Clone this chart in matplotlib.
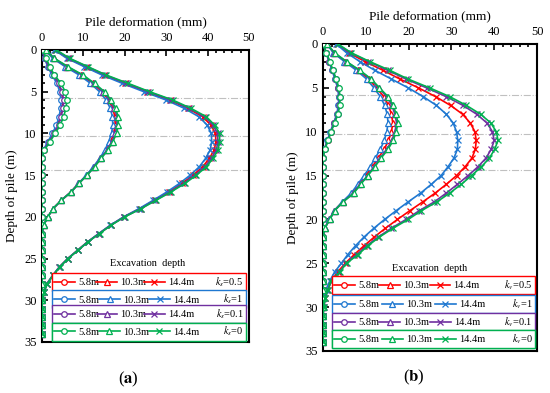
import matplotlib
matplotlib.use("Agg")
import matplotlib.pyplot as plt
from matplotlib.lines import Line2D

plt.rcParams['font.family'] = ['Liberation Serif', 'DejaVu Serif']
plt.rcParams['mathtext.fontset'] = 'stix'

depth = list(range(35))  # depth of pile (m), one point per metre
exc_depths = [5.8, 10.3, 14.4]  # excavation depths (m)
exc_labels = ['5.8m', '10.3m', '14.4m']
colors = ['#FF0000', '#1F78D1', '#7030A0', '#00B050']  # red, blue, purple, green
k_vals = ['0.5', '1', '0.1', '0']


def pad(v):
    return v + [0.0] * (35 - len(v))


# ---- panel (a): pile deformation (mm), order = red, blue, purple, green
a_58 = [
    pad([0.0, 0.7, 1.6, 2.7, 3.9, 4.7, 5.0, 4.9, 4.4, 3.8, 2.8, 1.6, 0.4]),
    pad([0.0, 0.6, 1.4, 2.4, 3.6, 4.3, 4.6, 4.5, 4.1, 3.5, 2.5, 1.4, 0.3]),
    pad([0.0, 0.7, 1.6, 2.8, 4.0, 4.9, 5.2, 5.1, 4.6, 4.0, 2.9, 1.7, 0.4]),
    pad([0.2, 1.0, 1.9, 3.0, 4.6, 5.6, 6.0, 5.8, 5.2, 4.4, 3.2, 1.9, 0.6]),
]
a_103 = [
    pad([0.9, 2.8, 5.9, 9.4, 12.2, 14.5, 16.1, 17.1, 17.6, 17.7, 17.3, 16.6, 15.5, 14.1, 12.5, 10.8, 8.8, 7.0, 4.7, 2.7, 1.4, 0.4]),
    pad([0.8, 2.6, 5.6, 9.0, 11.7, 13.9, 15.5, 16.5, 17.0, 17.1, 16.8, 16.1, 15.2, 13.9, 12.4, 10.7, 8.8, 7.0, 4.7, 2.7, 1.4, 0.4]),
    pad([1.0, 2.9, 6.1, 9.7, 12.5, 14.8, 16.4, 17.5, 18.1, 18.1, 17.7, 16.9, 15.7, 14.2, 12.6, 10.9, 8.9, 7.1, 4.7, 2.7, 1.4, 0.4]),
    pad([1.0, 3.0, 6.3, 9.9, 12.7, 15.1, 16.7, 17.8, 18.4, 18.4, 18.0, 17.1, 15.9, 14.3, 12.7, 10.9, 8.9, 7.1, 4.7, 2.7, 1.4, 0.4]),
]
a_144 = [
    pad([3.2, 6.3, 10.6, 15.0, 20.0, 25.3, 30.8, 35.2, 38.8, 40.8, 41.9, 42.0, 41.6, 40.4, 38.8, 36.5, 33.8, 30.7, 27.2, 23.7, 19.8, 16.6, 13.8, 11.0, 8.6, 6.2, 4.2, 2.6, 1.2, 0.4, 0.1]),
    pad([3.0, 6.0, 10.2, 14.5, 19.4, 24.6, 30.0, 34.4, 37.9, 39.9, 40.9, 41.0, 40.6, 39.5, 38.0, 35.8, 33.2, 30.2, 26.9, 23.5, 19.7, 16.5, 13.7, 11.0, 8.6, 6.2, 4.2, 2.6, 1.2, 0.4, 0.1]),
    pad([3.4, 6.5, 10.9, 15.3, 20.4, 25.7, 31.2, 35.6, 39.3, 41.3, 42.4, 42.5, 42.1, 40.9, 39.3, 36.9, 34.2, 31.0, 27.4, 23.9, 19.9, 16.6, 13.8, 11.1, 8.7, 6.3, 4.3, 2.7, 1.3, 0.5, 0.1]),
    pad([3.5, 6.7, 11.1, 15.5, 20.8, 26.0, 31.6, 36.0, 39.7, 41.7, 42.9, 42.9, 42.5, 41.3, 39.7, 37.3, 34.5, 31.2, 27.6, 24.0, 20.0, 16.7, 13.9, 11.1, 8.7, 6.3, 4.3, 2.7, 1.3, 0.5, 0.1]),
]

# ---- panel (b)
b_58 = [
    pad([0.0, 0.7, 1.5, 2.2, 2.9, 3.5, 3.8, 3.7, 3.3, 2.6, 1.8, 1.1, 0.3]),
    pad([0.0, 0.7, 1.4, 2.1, 2.8, 3.4, 3.7, 3.6, 3.2, 2.5, 1.7, 1.0, 0.3]),
    pad([0.0, 0.8, 1.5, 2.3, 3.0, 3.6, 3.9, 3.8, 3.4, 2.6, 1.8, 1.1, 0.4]),
    pad([0.0, 0.8, 1.6, 2.3, 3.1, 3.7, 4.0, 3.9, 3.5, 2.7, 1.9, 1.2, 0.4]),
]
b_103 = [
    pad([1.0, 2.5, 5.2, 8.2, 10.7, 12.5, 14.2, 15.3, 16.0, 16.3, 16.0, 15.3, 14.3, 12.9, 11.5, 10.0, 8.4, 6.9, 4.6, 2.6, 1.5, 0.4]),
    pad([0.9, 2.4, 5.0, 7.8, 10.2, 11.9, 13.4, 14.4, 15.0, 15.2, 14.9, 14.3, 13.4, 12.2, 11.0, 9.6, 8.1, 6.6, 4.5, 2.6, 1.5, 0.4]),
    pad([1.0, 2.6, 5.4, 8.5, 11.1, 13.0, 14.9, 16.1, 16.8, 17.2, 16.8, 16.1, 14.9, 13.4, 11.9, 10.4, 8.7, 7.1, 4.7, 2.7, 1.6, 0.4]),
    pad([1.0, 2.7, 5.5, 8.6, 11.3, 13.2, 15.2, 16.4, 17.1, 17.5, 17.1, 16.4, 15.2, 13.6, 12.1, 10.5, 8.8, 7.2, 4.7, 2.7, 1.6, 0.4]),
]
b_144 = [
    pad([3.3, 6.0, 9.8, 14.0, 18.0, 22.3, 26.3, 29.8, 32.6, 34.4, 35.5, 35.8, 35.6, 34.8, 33.2, 31.2, 28.8, 26.2, 23.3, 20.3, 17.4, 14.6, 12.0, 9.6, 7.3, 5.2, 3.4, 2.0, 1.0, 0.4, 0.1]),
    pad([3.1, 5.5, 8.6, 12.1, 16.0, 19.9, 23.4, 26.5, 28.8, 30.4, 31.2, 31.5, 31.4, 30.6, 29.2, 27.6, 25.3, 22.8, 19.9, 17.1, 14.4, 11.9, 9.6, 7.6, 5.8, 4.3, 2.7, 1.6, 0.7, 0.2]),
    pad([3.4, 6.4, 10.6, 15.1, 19.4, 24.2, 28.8, 32.7, 35.9, 38.3, 39.6, 40.0, 39.3, 38.1, 36.2, 33.9, 31.4, 28.8, 26.0, 22.5, 19.4, 16.0, 12.9, 10.2, 7.9, 5.4, 3.8, 1.9, 1.2, 0.5, 0.2]),
    pad([3.5, 6.6, 10.9, 15.6, 19.9, 24.9, 29.6, 33.5, 36.8, 39.2, 40.5, 40.9, 40.1, 38.9, 37.0, 34.7, 32.3, 29.6, 26.6, 23.0, 19.9, 16.4, 13.2, 10.5, 8.2, 5.5, 3.9, 1.9, 1.2, 0.5, 0.2]),
]

markers = ['o', '^', 'x']


def draw_panel(ax, series, k_name, leg_rows, exc_xy):
    for d in exc_depths:
        ax.axhline(d, color='#C0C0C0', lw=0.8, ls='-.', zorder=1)
    handles = []
    for ci, col in enumerate(colors):
        row = []
        for si, vals in enumerate(series):
            ln, = ax.plot(vals[ci], depth, color=col, lw=1.2, marker=markers[si],
                          ms=4, mfc='white', mec=col, mew=0.9, zorder=2 + ci,
                          label=exc_labels[si])
            row.append(ln)
        handles.append(row)

    ax.set_xlim(0, 50)
    ax.set_ylim(35, 0)
    ax.xaxis.tick_top()
    ax.xaxis.set_label_position('top')
    ax.set_xticks(range(0, 51, 10))
    ax.set_xticks(range(0, 51, 2), minor=True)
    ax.set_yticks(range(0, 36, 5))
    ax.set_yticks(range(0, 36, 1), minor=True)
    ax.tick_params(which='both', direction='in', labelsize=9, top=True,
                   bottom=False, right=False, width=1.2, pad=4)
    ax.tick_params(which='major', length=4)
    ax.tick_params(which='minor', length=2.5)
    for sp in ax.spines.values():
        sp.set_linewidth(1.5)
    ax.set_xlabel('Pile deformation (mm)', fontsize=9.5, labelpad=5)
    ax.set_ylabel('Depth of pile (m)', fontsize=9.5, labelpad=4)

    ax.text(exc_xy[0], exc_xy[1], 'Excavation  depth', transform=ax.transAxes,
            ha='center', va='center', fontsize=7.5)

    for ci, col in enumerate(colors):
        x0, x1, y0, y1 = leg_rows[ci]
        blank = Line2D([], [], linestyle='none')
        leg = ax.legend(handles[ci] + [blank],
                        exc_labels + ['$k_{%s}$=%s' % (k_name, k_vals[ci])],
                        ncol=4, loc='lower left', mode='expand',
                        bbox_to_anchor=(x0, y0, x1 - x0, y1 - y0),
                        fontsize=7.5, frameon=True, fancybox=False,
                        edgecolor=col, framealpha=1, borderpad=0.2,
                        borderaxespad=0, handlelength=2.0, handletextpad=0.3,
                        columnspacing=0.5, markerscale=1.0)
        leg.get_frame().set_linewidth(1.0)
        ax.add_artist(leg)


fig = plt.figure(figsize=(5.5, 3.93), dpi=100)
ax_a = fig.add_axes([42 / 550, 1 - 342 / 393, 207 / 550, 292 / 393])
ax_b = fig.add_axes([323 / 550, 1 - 351 / 393, 214 / 550, 307 / 393])

rows_a = [(0.048, 0.985, 0.175, 0.219), (0.048, 0.985, 0.116, 0.164),
          (0.048, 0.985, 0.065, 0.110), (0.048, 0.985, 0.005, 0.051)]
rows_b = [(0.042, 0.99, 0.186, 0.225), (0.042, 0.99, 0.124, 0.169),
          (0.042, 0.99, 0.065, 0.111), (0.042, 0.99, 0.010, 0.055)]

draw_panel(ax_a, [a_58, a_103, a_144], 's', rows_a, (0.51, 0.27))
draw_panel(ax_b, [b_58, b_103, b_144], 'v', rows_b, (0.50, 0.27))

fig.text(128 / 550, 1 - 379 / 393, r'($\mathbf{a}$)', ha='center', va='center', fontsize=12)
fig.text(414 / 550, 1 - 377 / 393, r'($\mathbf{b}$)', ha='center', va='center', fontsize=12)

fig.savefig('out.png', dpi=100)
